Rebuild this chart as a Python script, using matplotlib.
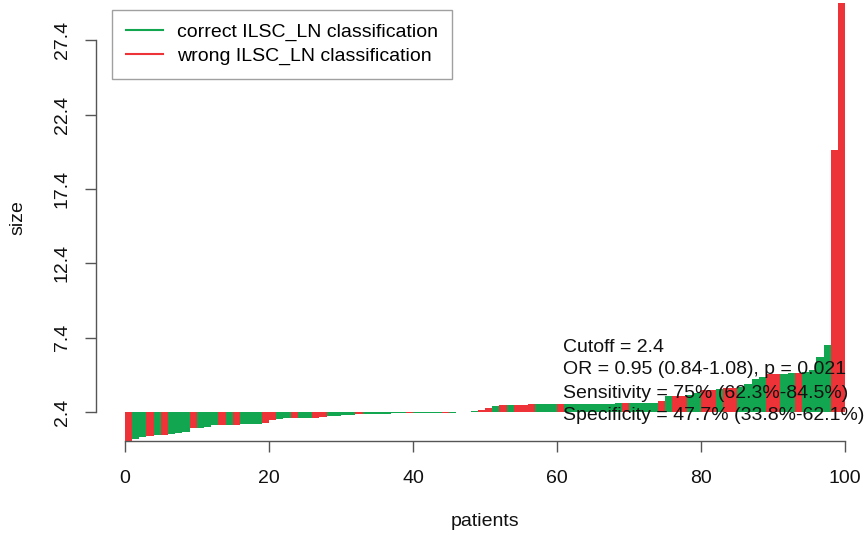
import numpy as np
import matplotlib
matplotlib.use("Agg")
import matplotlib.pyplot as plt
from matplotlib.lines import Line2D

# ---- data (sorted tumour sizes per patient, classification correctness) ----
sizes = [0.45, 0.60, 0.75, 0.80, 0.85, 0.87, 0.95, 1.00, 1.05, 1.30,
         1.35, 1.40, 1.50, 1.52, 1.53, 1.55, 1.57, 1.60, 1.62, 1.65,
         1.85, 1.95, 1.98, 2.00, 2.00, 2.02, 2.03, 2.05, 2.10, 2.15,
         2.20, 2.22, 2.24, 2.26, 2.27, 2.28, 2.29, 2.30, 2.30, 2.31,
         2.32, 2.32, 2.33, 2.34, 2.35, 2.36, 2.37, 2.38, 2.45, 2.55,
         2.65, 2.80, 2.85, 2.90, 2.90, 2.90, 2.92, 2.92, 2.92, 2.93,
         2.93, 2.93, 2.94, 2.95, 2.95, 2.96, 2.97, 2.97, 2.98, 3.00,
         3.00, 3.00, 3.00, 3.02, 3.15, 3.50, 3.50, 3.50, 3.55, 3.70,
         3.90, 3.90, 3.95, 4.00, 4.00, 4.10, 4.30, 4.60, 4.75, 4.95,
         4.95, 4.95, 5.00, 5.00, 5.10, 5.20, 6.10, 6.90, 20.0, 29.9]
correct = [0, 1, 1, 0, 1, 0, 1, 1, 1, 0,
           1, 1, 1, 0, 1, 0, 1, 1, 1, 0,
           0, 1, 1, 0, 1, 1, 0, 0, 1, 1,
           1, 1, 0, 1, 1, 1, 1, 1, 1, 0,
           1, 1, 1, 1, 0, 1, 1, 1, 1, 0,
           0, 1, 0, 1, 0, 0, 0, 1, 1, 1,
           0, 1, 1, 1, 1, 1, 1, 1, 1, 0,
           1, 1, 1, 1, 0, 1, 0, 0, 1, 1,
           0, 0, 1, 0, 0, 1, 1, 1, 1, 0,
           0, 1, 1, 0, 1, 1, 1, 1, 0, 0]
cutoff = 2.4
yticks = [2.4, 7.4, 12.4, 17.4, 22.4, 27.4]
xticks = [0, 20, 40, 60, 80, 100]
legend_labels = ["correct ILSC_LN classification", "wrong ILSC_LN classification"]
stats_lines = ["Cutoff = 2.4",
               "OR = 0.95 (0.84-1.08), p = 0.021",
               "Sensitivity = 75% (62.3%-84.5%)",
               "Specificity = 47.7% (33.8%-62.1%)"]

GREEN = "#12a650"
RED = "#ee3338"
AXC = "#555555"
FS = 14

plt.rcParams['font.family'] = ['Liberation Sans', 'DejaVu Sans']

W, H = 868, 533
fig = plt.figure(figsize=(W / 100, H / 100), dpi=100)
# axes in pixel coordinates: left 96, right 874, top 3, bottom 441
l, r, t, b = 96, 874, 3, 441
ax = fig.add_axes([l / W, 1 - b / H, (r - l) / W, (b - t) / H])

n = len(sizes)
pct = 100.0 / n
x = np.arange(n) * pct
s = np.array(sizes)
cols = [GREEN if c else RED for c in correct]
ax.bar(x, s - cutoff, bottom=cutoff, width=pct, align='edge', color=cols,
       linewidth=0)

ax.set_xlim(-4, 104)
ax.set_ylim(min(sizes), max(sizes))

for sp in ['top', 'right']:
    ax.spines[sp].set_visible(False)
ax.spines['left'].set_bounds(yticks[0], yticks[-1])
ax.spines['bottom'].set_bounds(xticks[0], xticks[-1])
for sp in ['left', 'bottom']:
    ax.spines[sp].set_color(AXC)
    ax.spines[sp].set_linewidth(1.0)

ax.set_xticks(xticks)
ax.set_xticklabels([str(v) for v in xticks])
ax.set_yticks(yticks)
ax.set_yticklabels([str(v) for v in yticks], rotation=90, va='center')
ax.tick_params(axis='both', colors=AXC, labelcolor='#111111', labelsize=FS,
               length=8, width=1.0)
ax.tick_params(axis='x', pad=13)
ax.tick_params(axis='y', pad=10)

fig.text(485 / W, 1 - 522 / H, "patients", ha='center', va='center',
         fontsize=FS, color='#111111')
fig.text(18 / W, 1 - 218 / H, "size", ha='center', va='center',
         rotation=90, fontsize=FS, color='#111111')

handles = [Line2D([], [], color=GREEN, lw=1.5), Line2D([], [], color=RED, lw=1.5)]
leg = fig.legend(handles, legend_labels, loc='upper left',
                 bbox_to_anchor=(112 / W, 1 - 10 / H), borderaxespad=0,
                 fontsize=FS, frameon=True, fancybox=False,
                 handlelength=1.9, handletextpad=0.75, labelspacing=0.3,
                 borderpad=0.7)
leg.get_frame().set_edgecolor('#888888')
leg.get_frame().set_linewidth(1.0)

for i, line in enumerate(stats_lines):
    fig.text(563 / W, 1 - (347 + 23 * i) / H, line, ha='left', va='center',
             fontsize=FS, color='#111111')

fig.savefig("out.png", dpi=100)
